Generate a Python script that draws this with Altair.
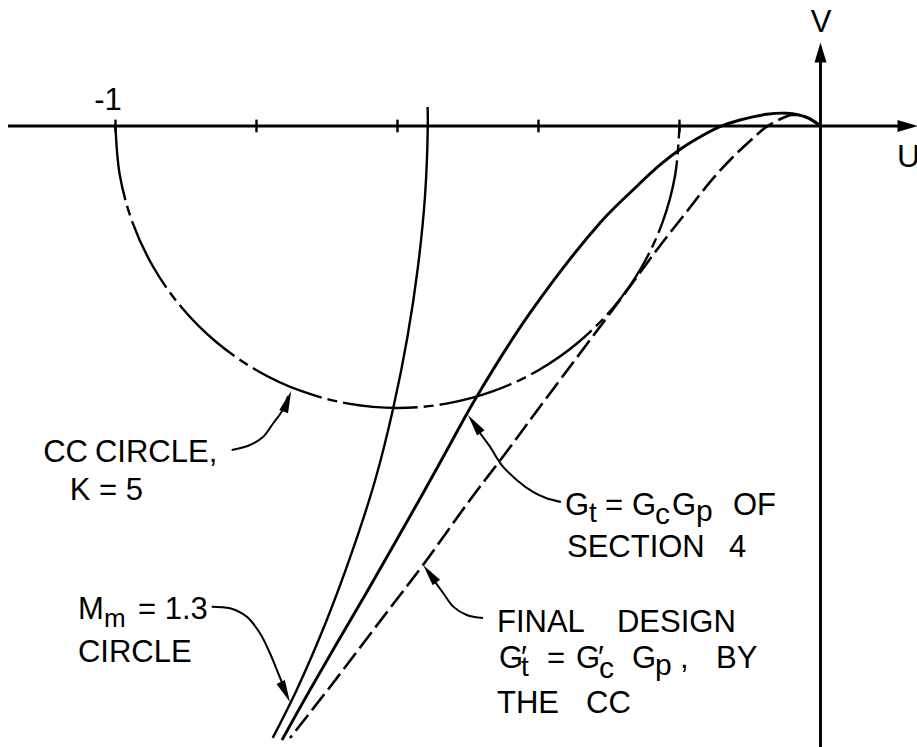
import altair as alt
import pandas as pd

# Plane extents: U horizontal, V vertical, equal units on both axes
U_MIN, U_MAX = -1.1638, 0.1369
V_MIN, V_MAX = -0.8809, 0.1787

# Constant-closed-loop (CC) circle, K = 5 (lower half)
cc_u = [-1.0, -0.9939, -0.9759, -0.9464, -0.9064, -0.8571, -0.8, -0.7368, -0.6695, -0.6,
        -0.5305, -0.4632, -0.4, -0.3429, -0.2936, -0.2536, -0.2241, -0.2061, -0.2]
cc_v = [0.0, -0.0695, -0.1368, -0.2, -0.2571, -0.3064, -0.3464, -0.3759, -0.3939, -0.4,
        -0.3939, -0.3759, -0.3464, -0.3064, -0.2571, -0.2, -0.1368, -0.0695, 0.0]

# M_m = 1.3 circle
mm_u = [-0.5573, -0.557, -0.561, -0.571, -0.586, -0.606, -0.631, -0.663, -0.700, -0.743, -0.777]
mm_v = [0.027, 0.0, -0.1, -0.2, -0.3, -0.4, -0.5, -0.6, -0.7, -0.8, -0.868]

# G_t = G_c G_p of section 4
gt_u = [0.0, -0.0196, -0.0479, -0.0763, -0.1142, -0.1426, -0.1709, -0.1969, -0.2277, -0.266,
        -0.3128, -0.412, -0.4887, -0.5298, -0.5667, -0.6418, -0.6915, -0.7298, -0.7638]
gt_v = [0.0, 0.0123, 0.018, 0.0166, 0.0085, -0.001, -0.0156, -0.0316, -0.0553, -0.0908,
        -0.1376, -0.2652, -0.3858, -0.4596, -0.5262, -0.6582, -0.7433, -0.8099, -0.8709]

# Final design G't = G'c G_p by the CC
fd_u = [0.0, -0.0196, -0.0409, -0.0574, -0.0763, -0.1, -0.1241, -0.1468, -0.1681, -0.1879,
        -0.2092, -0.2333, -0.2844, -0.3908, -0.4433, -0.4972, -0.5638, -0.6191, -0.6957, -0.7525]
fd_v = [0.0, 0.0123, 0.0156, 0.0095, -0.001, -0.0213, -0.044, -0.0681, -0.0936, -0.1191,
        -0.1461, -0.1773, -0.2468, -0.3887, -0.4596, -0.5305, -0.6227, -0.695, -0.7957, -0.8681]

# Tick marks along the U axis
tick_u = [-1.0, -0.8, -0.6, -0.4, -0.2]

X = alt.X("u:Q", scale=alt.Scale(domain=[U_MIN, U_MAX], nice=False, zero=False), axis=None)
Y = alt.Y("v:Q", scale=alt.Scale(domain=[V_MIN, V_MAX], nice=False, zero=False), axis=None)
FONT = "Liberation Sans"
INK = "black"


def path_df(us, vs):
    return pd.DataFrame({"u": us, "v": vs, "i": list(range(len(us)))})


def curve(us, vs, width, dash=None):
    mark = dict(color=INK, strokeWidth=width, interpolate="catmull-rom")
    if dash:
        mark["strokeDash"] = dash
    return alt.Chart(path_df(us, vs)).mark_line(**mark).encode(x=X, y=Y, order="i:Q")


cc_line = curve(cc_u, cc_v, 2.4, [75, 6, 10, 6])
mm_line = curve(mm_u, mm_v, 2.4)
gt_line = curve(gt_u, gt_v, 2.9)
fd_line = curve(fd_u, fd_v, 2.6, [20, 6])

# Coordinate axes with arrowheads
axes = alt.Chart(pd.DataFrame({
    "u": [-1.1525, 0.0], "v": [0.0, V_MIN], "u2": [0.1156, 0.0], "v2": [0.0, 0.0965]
})).mark_rule(color=INK, strokeWidth=2.9).encode(x=X, y=Y, x2="u2:Q", y2="v2:Q")

ticks = alt.Chart(pd.DataFrame({
    "u": tick_u, "v": [0.009] * len(tick_u), "v2": [-0.009] * len(tick_u)
})).mark_rule(color=INK, strokeWidth=2.4).encode(x=X, y=Y, y2="v2:Q")

axis_heads = alt.Chart(pd.DataFrame({
    "u": [0.1234, 0.0], "v": [0.0, 0.1043], "angle": [90, 0]
})).mark_point(shape="M0,-1L0.6,1L-0.6,1Z", size=400, filled=True, color=INK,
               opacity=1, strokeWidth=0).encode(
    x=X, y=Y, angle=alt.Angle("angle:Q", scale=None))

# Leader arrows from the labels to the curves
leaders = pd.concat([
    path_df([-0.8352, -0.8092, -0.7904, -0.7762, -0.7643, -0.7553],
            [-0.4596, -0.4525, -0.4407, -0.4217, -0.4052, -0.3830]).assign(a="cc"),
    path_df([-0.8635, -0.8376, -0.8139, -0.7950, -0.7809, -0.7691, -0.7596],
            [-0.6818, -0.6841, -0.6960, -0.7196, -0.7479, -0.7763, -0.8000]).assign(a="mm"),
    path_df([-0.3681, -0.3894, -0.4078, -0.4309, -0.4522, -0.4688, -0.4830, -0.4915],
            [-0.5333, -0.5277, -0.5191, -0.5021, -0.4809, -0.4549, -0.4355, -0.4227]).assign(a="gt"),
    path_df([-0.4787, -0.5018, -0.5209, -0.5350, -0.5496],
            [-0.6979, -0.6936, -0.6818, -0.6628, -0.6426]).assign(a="fd"),
])
leader_lines = alt.Chart(leaders).mark_line(
    color=INK, strokeWidth=2.0, interpolate="catmull-rom").encode(
    x=X, y=Y, detail="a:N", order="i:Q")

leader_heads = alt.Chart(pd.DataFrame({
    "u": [-0.7561, -0.7591, -0.4909, -0.5542],
    "v": [-0.3905, -0.8028, -0.4227, -0.6352],
    "angle": [20, 155, 324, 323],
})).mark_point(shape="M0,-1L0.42,1L-0.42,1Z", size=484, filled=True, color=INK,
               opacity=1, strokeWidth=0).encode(
    x=X, y=Y, angle=alt.Angle("angle:Q", scale=None))

# Lettering
MAIN, SUB_T, SUB = 31, 28, 30
left_text = [
    ("CIRCLE,", -1.0291, -0.4766, MAIN),
    ("M", -1.0532, -0.6993, MAIN),
    ("m", -1.0163, -0.7106, 26),
    ("= 1.3", -0.9681, -0.6993, MAIN),
    ("CIRCLE", -1.0532, -0.7603, MAIN),
    ("G", -0.3624, -0.5518, MAIN),
    ("t", -0.3284, -0.5617, SUB_T),
    ("=", -0.3057, -0.5518, MAIN),
    ("G", -0.2674, -0.5518, MAIN),
    ("c", -0.2348, -0.5645, SUB),
    ("G", -0.2106, -0.5518, MAIN),
    ("p", -0.1766, -0.5603, SUB),
    ("OF", -0.1241, -0.5518, MAIN),
    ("SECTION", -0.3596, -0.6113, MAIN),
    ("4", -0.1298, -0.6113, MAIN),
    ("FINAL", -0.4589, -0.7177, MAIN),
    ("DESIGN", -0.2887, -0.7177, MAIN),
    ("G", -0.4560, -0.7688, MAIN),
    ("\u2032", -0.4248, -0.7688, MAIN),
    ("t", -0.4248, -0.7801, SUB_T),
    ("=", -0.3879, -0.7688, MAIN),
    ("G", -0.3468, -0.7688, MAIN),
    ("\u2032", -0.3156, -0.7688, MAIN),
    ("c", -0.3142, -0.7830, SUB),
    ("G", -0.2674, -0.7688, MAIN),
    ("p", -0.2348, -0.7787, SUB),
    (",", -0.1993, -0.7688, MAIN),
    ("BY", -0.1482, -0.7688, MAIN),
    ("THE", -0.4589, -0.8326, MAIN),
    ("CC", -0.3326, -0.8326, MAIN),
    ("U", 0.1085, -0.0582, 32),
]
right_text = [
    ("CC", -1.0390, -0.4766, MAIN),
    ("K = 5", -0.9610, -0.5305, MAIN),
]
center_text = [
    ("-1", -1.0106, 0.0227, MAIN),
    ("V", 0.0007, 0.1333, MAIN),
]


def text_layer(rows, align):
    df = pd.DataFrame(rows, columns=["t", "u", "v", "s"])
    return alt.Chart(df).mark_text(
        align=align, baseline="alphabetic", font=FONT, color=INK).encode(
        x=X, y=Y, text="t:N", size=alt.Size("s:Q", scale=None))


chart = alt.layer(
    cc_line, mm_line, gt_line, fd_line,
    axes, ticks, axis_heads,
    leader_lines, leader_heads,
    text_layer(left_text, "left"),
    text_layer(right_text, "right"),
    text_layer(center_text, "center"),
).properties(
    width=917, height=747, padding=0,
    autosize=alt.AutoSizeParams(type="none"),
    background="white",
).configure_view(stroke=None)

chart.save("out.html", embed_options={"renderer": "svg", "actions": False})
